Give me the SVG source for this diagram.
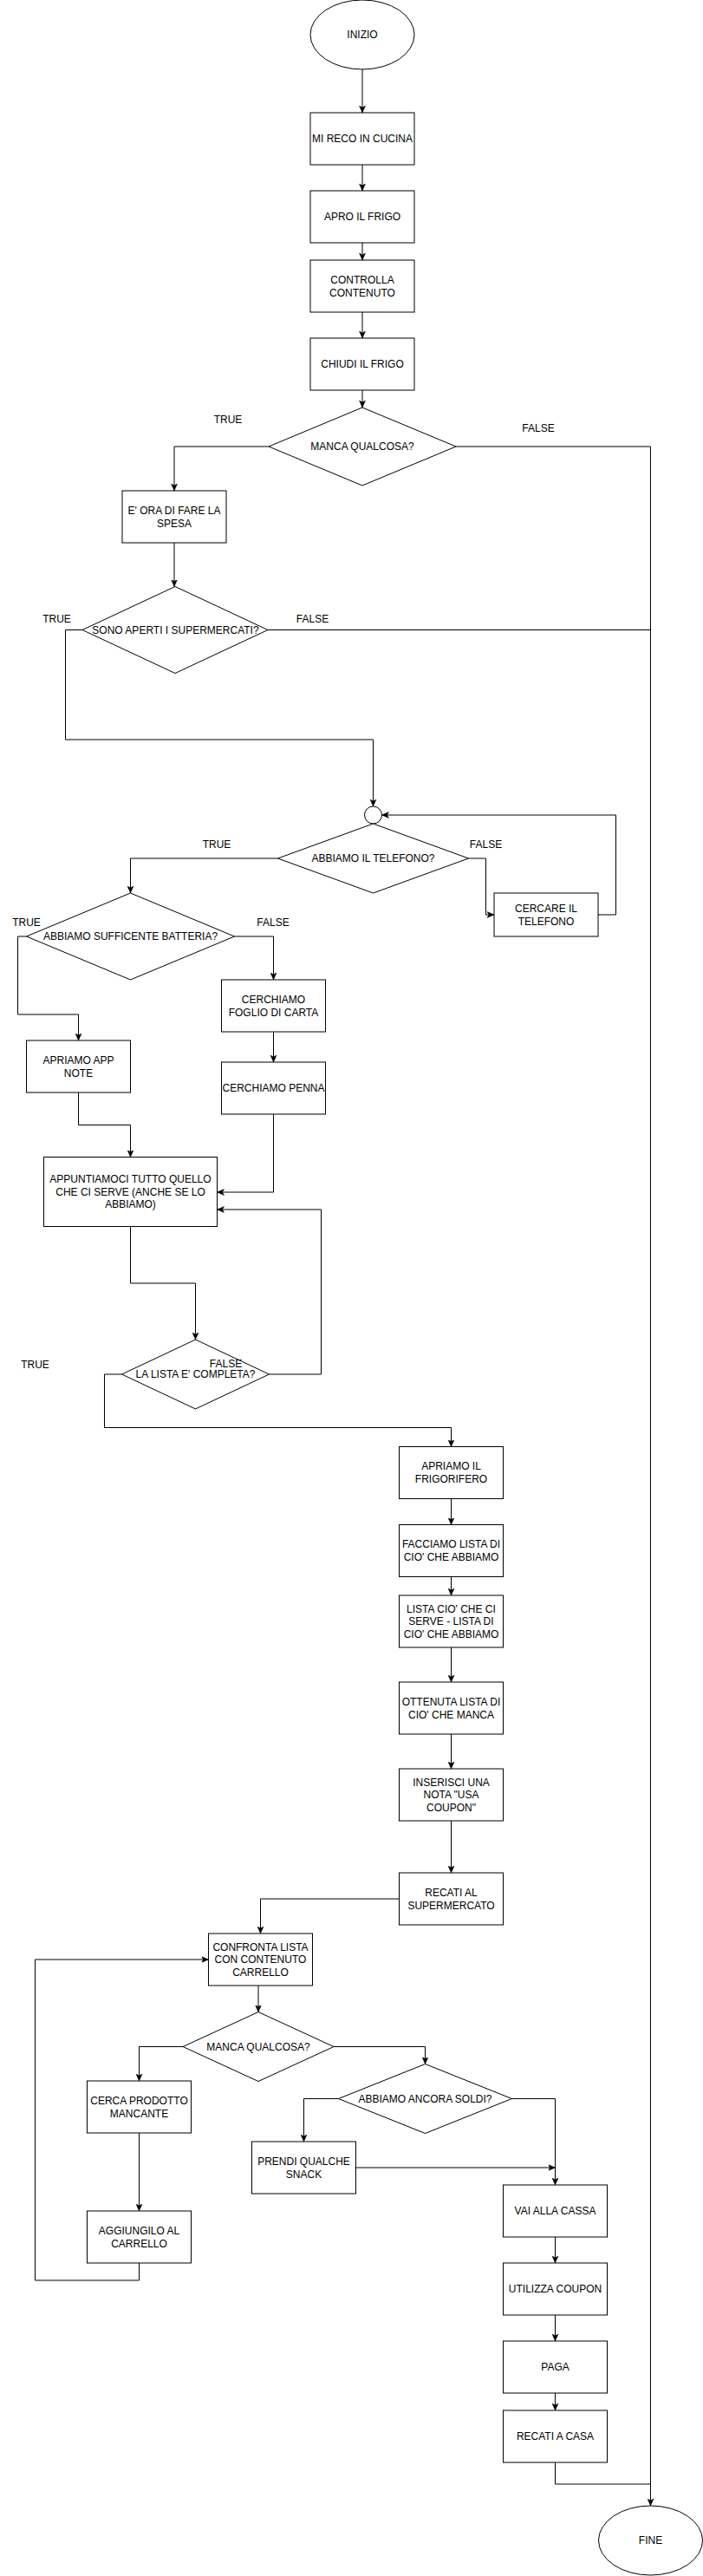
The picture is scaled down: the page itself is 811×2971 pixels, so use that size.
<svg xmlns="http://www.w3.org/2000/svg" width="811" height="2971" viewBox="0 0 811 2971">
<style>
.n{fill:#fff;stroke:#000;stroke-width:1}
.t{font-family:"Liberation Sans",Arial,sans-serif;font-size:12px;fill:#000;text-anchor:middle}
.c{fill:none;stroke:#000;stroke-width:1}
.a{marker-end:url(#arr)}
</style>
<defs>
<marker id="arr" viewBox="0 0 8 8" refX="8" refY="4" markerWidth="8" markerHeight="8" markerUnits="userSpaceOnUse" orient="auto">
<path d="M0,0.5 L8,4 L0,7.5 L2,4 Z" fill="#000" stroke="#000" stroke-width="0.5"/>
</marker>
</defs>
<rect x="0" y="0" width="811" height="2971" fill="#fff"/>
<g id="connectors">
<path class="c a" d="M418,80 V130"/>
<path class="c a" d="M418,190 V220"/>
<path class="c a" d="M418,280 V300"/>
<path class="c a" d="M418,360 V390"/>
<path class="c a" d="M418,450 V470"/>
<path class="c a" d="M310,515 H201 V566"/>
<path class="c a" d="M526,515 H750.5 V2890"/>
<path class="c a" d="M201,626 V676.5"/>
<path class="c a" d="M95,726.5 H75.5 V853 H430.5 V930"/>
<path class="c" d="M309,726.5 H750.5"/>
<path class="c a" d="M320.5,990 H150.5 V1030"/>
<path class="c a" d="M540.5,990 H560.5 V1055 H570"/>
<path class="c a" d="M690,1055 H710.5 V940 H440.5"/>
<path class="c a" d="M30.5,1080 H20.5 V1170 H90.5 V1200"/>
<path class="c a" d="M270.5,1080 H315.5 V1130"/>
<path class="c a" d="M315.5,1190 V1225"/>
<path class="c a" d="M315.5,1285 V1375 H250.5"/>
<path class="c a" d="M90.5,1260 V1297.5 H150.5 V1334.5"/>
<path class="c a" d="M150.5,1414.5 V1480 H225.5 V1545"/>
<path class="c a" d="M310.5,1585 H370.5 V1395 H250.5"/>
<path class="c a" d="M140.5,1585 H120.5 V1646.5 H520.5 V1668.5"/>
<path class="c a" d="M520.5,1728.5 V1758.5"/>
<path class="c a" d="M520.5,1818.5 V1840"/>
<path class="c a" d="M520.5,1900 V1940"/>
<path class="c a" d="M520.5,2000 V2040"/>
<path class="c a" d="M520.5,2100 V2160"/>
<path class="c a" d="M460.5,2190 H300.5 V2230"/>
<path class="c a" d="M298,2290 V2320.5"/>
<path class="c a" d="M211,2360.5 H160.5 V2400"/>
<path class="c a" d="M385,2360.5 H490.5 V2380.5"/>
<path class="c a" d="M390.5,2420.5 H350.5 V2470"/>
<path class="c a" d="M590.5,2420.5 H640.5 V2520"/>
<path class="c a" d="M410.5,2500 H640.5"/>
<path class="c a" d="M160.5,2460 V2550"/>
<path class="c a" d="M160.5,2610 V2630 H40.5 V2260 H240.5"/>
<path class="c a" d="M640.5,2580 V2610"/>
<path class="c a" d="M640.5,2670 V2700"/>
<path class="c a" d="M640.5,2760 V2780"/>
<path class="c" d="M640.5,2840 V2865 H750.5"/>
</g>
<g id="n-inizio"><ellipse class="n" cx="418" cy="40" rx="60" ry="40"/><text class="t" x="418" y="44">INIZIO</text></g>
<g id="n-cucina"><rect class="n" x="358" y="130" width="120" height="60"/><text class="t" x="418" y="164">MI RECO IN CUCINA</text></g>
<g id="n-apro"><rect class="n" x="358" y="220" width="120" height="60"/><text class="t" x="418" y="254">APRO IL FRIGO</text></g>
<g id="n-controlla"><rect class="n" x="358" y="300" width="120" height="60"/><text class="t" x="418" y="326.5">CONTROLLA</text><text class="t" x="418" y="341.5">CONTENUTO</text></g>
<g id="n-chiudi"><rect class="n" x="358" y="390" width="120" height="60"/><text class="t" x="418" y="424">CHIUDI IL FRIGO</text></g>
<g id="n-manca1"><polygon class="n" points="418,470 526,515 418,560 310,515"/><text class="t" x="418" y="519">MANCA QUALCOSA?</text></g>
<g id="n-ora"><rect class="n" x="141" y="566" width="120" height="60"/><text class="t" x="201" y="592.5">E' ORA DI FARE LA</text><text class="t" x="201" y="607.5">SPESA</text></g>
<g id="n-aperti"><polygon class="n" points="202,676.5 309,726.5 202,776.5 95,726.5"/><text class="t" x="202.5" y="730.5">SONO APERTI I SUPERMERCATI?</text></g>
<g id="n-merge"><ellipse class="n" cx="430.5" cy="940" rx="10" ry="10"/></g>
<g id="n-telefono"><polygon class="n" points="430.5,950 540.5,990 430.5,1030 320.5,990"/><text class="t" x="430.5" y="994">ABBIAMO IL TELEFONO?</text></g>
<g id="n-cercare"><rect class="n" x="570" y="1030" width="120" height="50"/><text class="t" x="630" y="1051.5">CERCARE IL</text><text class="t" x="630" y="1066.5">TELEFONO</text></g>
<g id="n-batteria"><polygon class="n" points="150.5,1030 270.5,1080 150.5,1130 30.5,1080"/><text class="t" x="150.5" y="1084">ABBIAMO SUFFICENTE BATTERIA?</text></g>
<g id="n-app"><rect class="n" x="30.5" y="1200" width="120" height="60"/><text class="t" x="90.5" y="1226.5">APRIAMO APP</text><text class="t" x="90.5" y="1241.5">NOTE</text></g>
<g id="n-foglio"><rect class="n" x="255.5" y="1130" width="120" height="60"/><text class="t" x="315.5" y="1156.5">CERCHIAMO</text><text class="t" x="315.5" y="1171.5">FOGLIO DI CARTA</text></g>
<g id="n-penna"><rect class="n" x="255.5" y="1225" width="120" height="60"/><text class="t" x="315.5" y="1259">CERCHIAMO PENNA</text></g>
<g id="n-appunt"><rect class="n" x="50.5" y="1334.5" width="200" height="80"/><text class="t" x="150.5" y="1364">APPUNTIAMOCI TUTTO QUELLO</text><text class="t" x="150.5" y="1378.5">CHE CI SERVE (ANCHE SE LO</text><text class="t" x="150.5" y="1393">ABBIAMO)</text></g>
<g id="n-completa"><polygon class="n" points="225.5,1545 310.5,1585 225.5,1625 140.5,1585"/><text class="t" x="225.5" y="1589">LA LISTA E' COMPLETA?</text></g>
<g id="n-frigorifero"><rect class="n" x="460.5" y="1668.5" width="120" height="60"/><text class="t" x="520.5" y="1695">APRIAMO IL</text><text class="t" x="520.5" y="1710">FRIGORIFERO</text></g>
<g id="n-facciamo"><rect class="n" x="460.5" y="1758.5" width="120" height="60"/><text class="t" x="520.5" y="1785">FACCIAMO LISTA DI</text><text class="t" x="520.5" y="1800">CIO' CHE ABBIAMO</text></g>
<g id="n-differenza"><rect class="n" x="460.5" y="1840" width="120" height="60"/><text class="t" x="520.5" y="1859.5">LISTA CIO' CHE CI</text><text class="t" x="520.5" y="1874">SERVE - LISTA DI</text><text class="t" x="520.5" y="1888.5">CIO' CHE ABBIAMO</text></g>
<g id="n-ottenuta"><rect class="n" x="460.5" y="1940" width="120" height="60"/><text class="t" x="520.5" y="1966.5">OTTENUTA LISTA DI</text><text class="t" x="520.5" y="1981.5">CIO' CHE MANCA</text></g>
<g id="n-nota"><rect class="n" x="460.5" y="2040" width="120" height="60"/><text class="t" x="520.5" y="2059.5">INSERISCI UNA</text><text class="t" x="520.5" y="2074">NOTA "USA</text><text class="t" x="520.5" y="2088.5">COUPON"</text></g>
<g id="n-supermercato"><rect class="n" x="460.5" y="2160" width="120" height="60"/><text class="t" x="520.5" y="2186.5">RECATI AL</text><text class="t" x="520.5" y="2201.5">SUPERMERCATO</text></g>
<g id="n-confronta"><rect class="n" x="240.5" y="2230" width="120" height="60"/><text class="t" x="300.5" y="2249.5">CONFRONTA LISTA</text><text class="t" x="300.5" y="2264">CON CONTENUTO</text><text class="t" x="300.5" y="2278.5">CARRELLO</text></g>
<g id="n-manca2"><polygon class="n" points="298,2320.5 385,2360.5 298,2400.5 211,2360.5"/><text class="t" x="298" y="2364.5">MANCA QUALCOSA?</text></g>
<g id="n-cerca"><rect class="n" x="100.5" y="2400" width="120" height="60"/><text class="t" x="160.5" y="2426.5">CERCA PRODOTTO</text><text class="t" x="160.5" y="2441.5">MANCANTE</text></g>
<g id="n-soldi"><polygon class="n" points="490.5,2380.5 590.5,2420.5 490.5,2460.5 390.5,2420.5"/><text class="t" x="490.5" y="2424.5">ABBIAMO ANCORA SOLDI?</text></g>
<g id="n-snack"><rect class="n" x="290.5" y="2470" width="120" height="60"/><text class="t" x="350.5" y="2496.5">PRENDI QUALCHE</text><text class="t" x="350.5" y="2511.5">SNACK</text></g>
<g id="n-aggiungi"><rect class="n" x="100.5" y="2550" width="120" height="60"/><text class="t" x="160.5" y="2576.5">AGGIUNGILO AL</text><text class="t" x="160.5" y="2591.5">CARRELLO</text></g>
<g id="n-cassa"><rect class="n" x="580.5" y="2520" width="120" height="60"/><text class="t" x="640.5" y="2554">VAI ALLA CASSA</text></g>
<g id="n-coupon"><rect class="n" x="580.5" y="2610" width="120" height="60"/><text class="t" x="640.5" y="2644">UTILIZZA COUPON</text></g>
<g id="n-paga"><rect class="n" x="580.5" y="2700" width="120" height="60"/><text class="t" x="640.5" y="2734">PAGA</text></g>
<g id="n-casa"><rect class="n" x="580.5" y="2780" width="120" height="60"/><text class="t" x="640.5" y="2814">RECATI A CASA</text></g>
<g id="n-fine"><ellipse class="n" cx="750.5" cy="2930" rx="60" ry="40"/><text class="t" x="750.5" y="2934">FINE</text></g>
<g id="labels">
<text class="t" x="263" y="488">TRUE</text>
<text class="t" x="621" y="498">FALSE</text>
<text class="t" x="65.5" y="718">TRUE</text>
<text class="t" x="360.5" y="718">FALSE</text>
<text class="t" x="250" y="978">TRUE</text>
<text class="t" x="560.5" y="978">FALSE</text>
<text class="t" x="30.5" y="1068">TRUE</text>
<text class="t" x="315" y="1068">FALSE</text>
<text class="t" x="40.5" y="1578">TRUE</text>
<text class="t" x="260.5" y="1577">FALSE</text>
</g>
</svg>
